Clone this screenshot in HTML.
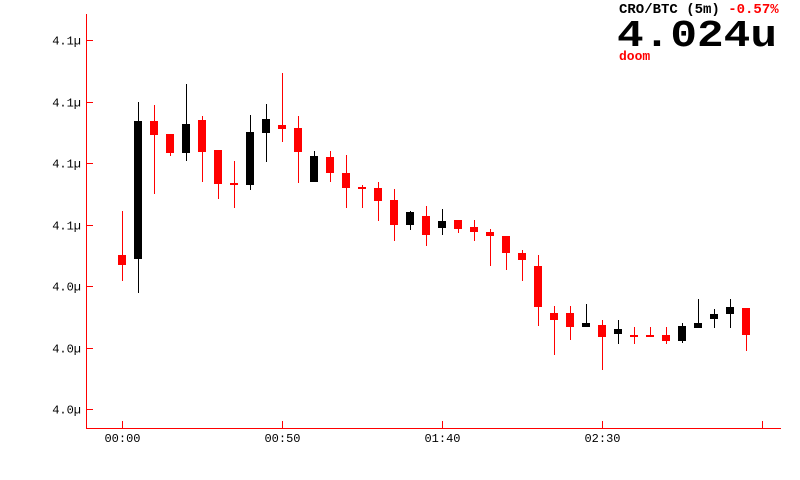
<!DOCTYPE html>
<html><head><meta charset="utf-8"><style>
html,body{margin:0;padding:0;background:#fff;}
svg{display:block;font-family:"Liberation Mono","DejaVu Sans Mono",monospace;}
</style></head><body>
<svg id="chart" width="800" height="480" viewBox="0 0 800 480" xmlns="http://www.w3.org/2000/svg">
<g id="axes"></g>
<g id="candles"></g>
<g>
<text x="619" y="13" font-size="14" font-weight="bold" fill="#000">CRO/BTC (5m) <tspan fill="#f00">-0.57%</tspan></text>
<text x="617" y="46" font-size="38" font-weight="bold" fill="#000" textLength="160" lengthAdjust="spacingAndGlyphs">4.024u</text>
<text x="619" y="60" font-size="13" font-weight="bold" fill="#f00">doom</text>
</g>
</svg>
<script>
// price units: arbitrary scale (higher = higher price)
const opens  = [225,221,359,346,327,360,330,297,295,347,355,352,298,323,307,293,292,280,255,264,252,260,253,248,244,227,214,167,167,153,155,146,145,145,145,139,152,161,166,172];
const highs  = [269,378,375,346,396,364,330,319,365,376,407,364,329,329,325,295,298,291,269,274,271,260,260,251,244,230,225,174,174,176,160,160,153,153,153,157,181,171,181,172];
const lows   = [199,187,286,324,319,298,281,272,290,318,338,297,298,298,272,272,259,239,250,234,245,247,239,214,210,199,154,125,140,153,110,136,136,143,136,137,152,152,152,129];
const closes = [215,359,345,327,356,328,296,295,348,361,351,328,324,307,292,291,279,255,268,245,259,251,248,244,227,220,173,160,153,157,143,151,144,144,139,154,157,166,173,145];
const timeLabels = ["00:00","00:50","01:40","02:30",""];
const timeTickIdx = [0,10,20,30,40];
const yTickVals = [71,132,194,255,317,378,440];
const yTickLabels = ["4.0\u00b5","4.0\u00b5","4.0\u00b5","4.1\u00b5","4.1\u00b5","4.1\u00b5","4.1\u00b5"];

const NS="http://www.w3.org/2000/svg";
function xScale(i){return 122+i*16;}
function yScale(v){return 480-v;}
function mk(tag,attrs,parent){const e=document.createElementNS(NS,tag);for(const k in attrs)e.setAttribute(k,attrs[k]);parent.appendChild(e);return e;}
const axes=document.getElementById('axes');
const cg=document.getElementById('candles');
let e;
e=mk('line',{x1:86.5,y1:14,x2:86.5,y2:428,stroke:'#f00','stroke-width':1},axes);


e=mk('line',{x1:86,y1:428.5,x2:781,y2:428.5,stroke:'#f00','stroke-width':1},axes);


yTickVals.forEach((v,i)=>{
  const y=Math.round(yScale(v))+0.5;
  let t=mk('line',{x1:86,y1:y,x2:93,y2:y,stroke:'#f00'},axes);
  
  
  let l=mk('text',{x:81,y:y+4,'font-size':12,'text-anchor':'end',fill:'#000'},axes);
  l.textContent=yTickLabels[i];
  
  
});
timeTickIdx.forEach((idx,i)=>{
  const x=xScale(idx)+0.5;
  let t=mk('line',{x1:x,y1:421,x2:x,y2:428,stroke:'#f00'},axes);
  
  
  if(timeLabels[i]){
    let l=mk('text',{x:x,y:442,'font-size':12,'text-anchor':'middle',fill:'#000'},axes);
    l.textContent=timeLabels[i];
    
    
  }
});
opens.forEach((o,i)=>{
  const c=closes[i],up=c>o,col=up?'#000':'#f00';
  const x=xScale(i);
  const g=mk('g',{},cg);
  
  
  mk('line',{x1:x+0.5,y1:yScale(highs[i]),x2:x+0.5,y2:yScale(lows[i]),stroke:col,'stroke-width':1},g);
  const top=yScale(Math.max(o,c)),bot=yScale(Math.min(o,c));
  mk('rect',{x:x-4,y:top,width:8,height:Math.max(2,bot-top),fill:col},g);
});
</script>
</body></html>
